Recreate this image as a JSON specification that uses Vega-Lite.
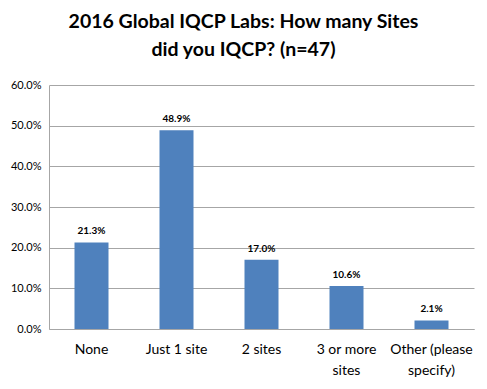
{
  "$schema": "https://vega.github.io/schema/vega-lite/v6.json",
  "autosize": {"type": "none"},
  "width": 425,
  "height": 244,
  "padding": {"left": 49, "top": 85, "right": 13, "bottom": 60},
  "background": "white",
  "title": {
    "text": ["2016 Global IQCP Labs: How many Sites", "did you IQCP? (n=47)"],
    "font": "Lato",
    "fontSize": 19.5,
    "fontWeight": "bold",
    "color": "#000000",
    "lineHeight": 28,
    "anchor": "middle",
    "dx": -18,
    "offset": 19
  },
  "data": {
    "values": [
      {"cat": "None", "v": 0.213},
      {"cat": "Just 1 site", "v": 0.489},
      {"cat": "2 sites", "v": 0.170},
      {"cat": "3 or more sites", "v": 0.106},
      {"cat": "Other (please specify)", "v": 0.021}
    ]
  },
  "encoding": {
    "x": {
      "field": "cat",
      "type": "nominal",
      "sort": null,
      "scale": {"paddingInner": 0.6, "paddingOuter": 0.3},
      "axis": {
        "title": null,
        "labelAngle": 0,
        "labelFont": "Lato",
        "labelFontSize": 14,
        "labelColor": "#000000",
        "labelPadding": 13,
        "labelExpr": "datum.value == '3 or more sites' ? ['3 or more', 'sites'] : datum.value == 'Other (please specify)' ? ['Other (please', 'specify)'] : datum.value",
        "labelLineHeight": 21,
        "domainColor": "#A6A6A6",
        "ticks": false
      }
    },
    "y": {
      "field": "v",
      "type": "quantitative",
      "scale": {"domain": [0, 0.6], "nice": false},
      "axis": {
        "title": null,
        "format": ".1%",
        "values": [0, 0.1, 0.2, 0.3, 0.4, 0.5, 0.6],
        "labelFont": "Lato",
        "labelFontSize": 11,
        "labelColor": "#000000",
        "labelPadding": 8,
        "gridColor": "#A6A6A6",
        "domainColor": "#A6A6A6",
        "ticks": false
      }
    }
  },
  "layer": [
    {"mark": {"type": "bar", "color": "#4F81BD"}},
    {
      "mark": {"type": "text", "dy": -11, "font": "Lato", "fontSize": 10, "fontWeight": "bold", "color": "#000000"},
      "encoding": {"text": {"field": "v", "type": "quantitative", "format": ".1%"}}
    }
  ],
  "config": {"view": {"stroke": null}}
}
